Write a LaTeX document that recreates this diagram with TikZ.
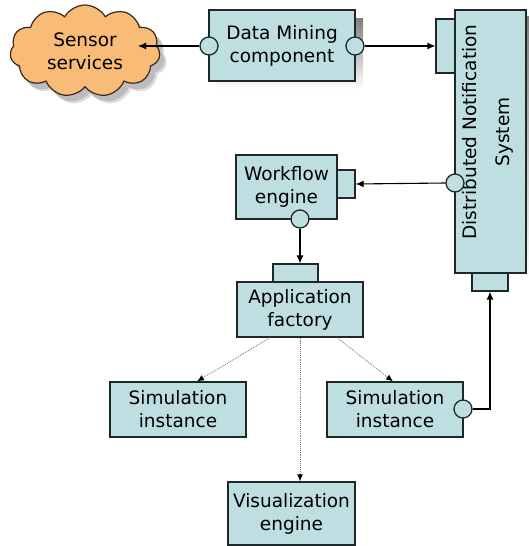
\documentclass[tikz,border=0pt]{standalone}
\usepackage{fontspec}
\setmainfont{DejaVu Sans}
\usetikzlibrary{shapes.symbols,arrows.meta}
\definecolor{boxfill}{HTML}{BEDEE2}
\definecolor{cloudfill}{HTML}{F8BB78}
\definecolor{edge}{HTML}{1E2828}
\definecolor{cloudedge}{HTML}{3A2A1A}
\definecolor{shade}{HTML}{B4B4B4}

\begin{document}
\begin{tikzpicture}[x=1pt,y=-1pt,
  comp/.style={draw=edge,line width=1.3pt,fill=boxfill,align=center,inner sep=0pt,
    font=\fontsize{18.5}{23}\selectfont},
  port/.style={draw=edge,line width=1.3pt,fill=boxfill,inner sep=0pt},
  iface/.style={circle,draw=edge,line width=1.3pt,fill=boxfill,minimum size=18pt,inner sep=0pt},
  link/.style={draw=black,line width=1.1pt,-{Latex[length=8pt,width=7pt]}},
  spawn/.style={draw=gray,densely dotted,line width=0.9pt,
    -{Latex[length=7pt,width=6pt,color=black]}},
  puff/.style={cloud,cloud puffs=11,cloud puff arc=120,aspect=1.8,
    minimum width=150pt,minimum height=92pt,inner sep=0pt}]

\useasboundingbox (0,0) rectangle (529,546);

% drop shadows
\node[puff,fill=shade,opacity=0.45] at (92,59) {};
\node[puff,fill=shade,opacity=0.8] at (90,57) {};
\fill[shade] (216,18) rectangle (363,89);
\fill[shade] (461,16) rectangle (532,279);

% sensor cloud
\node[puff,draw=cloudedge,line width=1.2pt,fill=cloudfill,align=center,
  font=\fontsize{18.5}{23}\selectfont] (cloud) at (85,51) {Sensor\\services};
\coordinate (cloudin) at (138,46);

% data mining component
\node[comp,minimum width=146pt,minimum height=71pt] (dm) at (282,45.5) {Data Mining\\component};
\node[iface] (dmL) at (209,46) {};
\node[iface] (dmR) at (355,46) {};

% distributed notification system
\node[port,minimum width=19pt,minimum height=54pt] (dnsPortL) at (445.5,46) {};
\node[port,minimum width=36pt,minimum height=18pt] (dnsPortB) at (490,282) {};
\node[comp,minimum width=71pt,minimum height=263pt] (dns) at (490.5,141.5) {};
\node[rotate=90,align=center,font=\fontsize{18.5}{33}\selectfont] (dnsText) at (488,132)
  {Distributed Notification\\System};
\node[iface] (dnsC) at (455,183) {};

% workflow engine
\node[port,minimum width=18pt,minimum height=28pt] (wfPort) at (346,184) {};
\node[comp,minimum width=101pt,minimum height=64pt] (wf) at (286.5,187) {Workflow\\engine};
\node[iface] (wfC) at (300,219) {};

% application factory
\node[port,minimum width=45pt,minimum height=18pt] (afPort) at (295.5,273) {};
\node[comp,minimum width=126pt,minimum height=55pt] (af) at (300,309.5) {Application\\factory};

% spawned instances
\node[comp,minimum width=136pt,minimum height=55pt] (simL) at (178,409.5) {Simulation\\instance};
\node[comp,minimum width=136pt,minimum height=55pt] (simR) at (395,409.5) {Simulation\\instance};
\node[iface] (srC) at (463,409) {};
\node[comp,minimum width=127pt,minimum height=63pt] (vis) at (291.5,513.5) {Visualization\\engine};

% connectors
\draw[link] (dmL.west) -- (cloudin);
\draw[link] (dmR.east) -- (dnsPortL.west);
\draw[link] (dnsC.west) -- (wfPort.east);
\draw[link] (wfC.south) -- (wfC.south |- afPort.north);
\draw[link] (srC.east) -| (dnsPortB.south);

\draw[spawn] ([xshift=-30pt]af.south) -- ([xshift=19pt]simL.north);
\draw[spawn] (af.south) -- (af.south |- vis.north);
\draw[spawn] ([xshift=37pt]af.south) -- ([xshift=-2pt]simR.north);
\end{tikzpicture}
\end{document}
